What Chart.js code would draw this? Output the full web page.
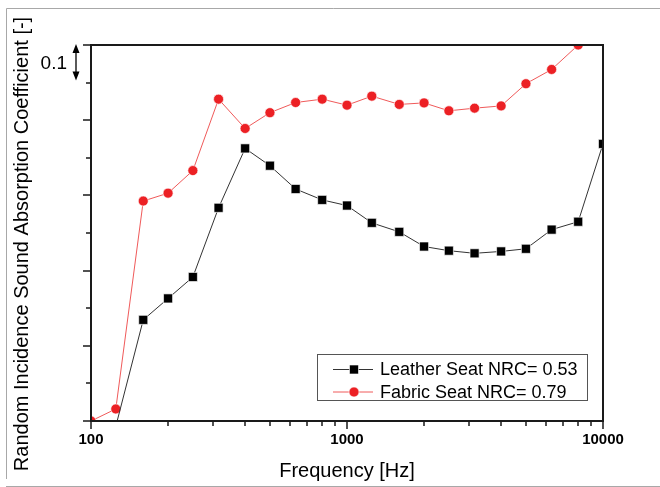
<!DOCTYPE html>
<html>
<head>
<meta charset="utf-8">
<script src="https://cdn.jsdelivr.net/npm/chart.js@4.4.0/dist/chart.umd.min.js"></script>
<style>
  html, body { margin: 0; padding: 0; background: #fff; }
  #wrap { width: 660px; height: 487px; }
</style>
</head>
<body>
<div id="wrap"><canvas id="absorptionChart" width="660" height="487"></canvas></div>
<script>
// one-third octave band centres [Hz]
const frequencies = [100, 125, 160, 200, 250, 315, 400, 500, 630, 800, 1000,
    1250, 1600, 2000, 2500, 3150, 4000, 5000, 6300, 8000, 10000];

// random incidence absorption coefficient
const leatherSeat = [null, -0.014, 0.269, 0.326, 0.383, 0.567, 0.725, 0.679, 0.617, 0.588, 0.573,
    0.527, 0.503, 0.464, 0.453, 0.446, 0.451, 0.458, 0.509, 0.530, 0.737];
const fabricSeat = [0.0, 0.032, 0.585, 0.606, 0.666, 0.856, 0.778, 0.820, 0.847, 0.856, 0.840,
    0.864, 0.842, 0.846, 0.825, 0.832, 0.838, 0.897, 0.935, 1.0, 1.08];

const seriesLabels = ['Leather Seat NRC= 0.53', 'Fabric Seat NRC= 0.79'];

// axis ticks
const freqTickLabels = [100, 1000, 10000];
const freqMinorTicks = [200, 300, 400, 500, 600, 700, 800, 900, 2000, 3000, 4000, 5000, 6000, 7000, 8000, 9000];
const coefTicks = [0, 0.1, 0.2, 0.3, 0.4, 0.5, 0.6, 0.7, 0.8, 0.9, 1.0];

const FONT = "'Liberation Sans', Arial, Helvetica, sans-serif";

const toPoints = values => frequencies.map((f, i) => ({ x: f, y: values[i] }));

// frame, tick marks, scale arrow, y title and the boxed legend
const decorPlugin = {
    id: 'decor',
    beforeDraw(chart) {
        const ctx = chart.ctx;
        ctx.save();
        ctx.fillStyle = '#fff';
        ctx.fillRect(0, 0, chart.width, chart.height);
        ctx.strokeStyle = '#a8a8a8';
        ctx.lineWidth = 1;
        ctx.beginPath();
        ctx.moveTo(6.5, 479);
        ctx.lineTo(6.5, 8.5);
        ctx.lineTo(660, 8.5);
        ctx.moveTo(6, 486.5);
        ctx.lineTo(660, 486.5);
        ctx.stroke();
        ctx.restore();
    },
    afterDraw(chart) {
        const { ctx, chartArea: a, scales } = chart;
        const xs = scales.x, ys = scales.y;
        ctx.save();

        // plot box
        ctx.strokeStyle = '#1a1a1a';
        ctx.lineWidth = 2;
        ctx.strokeRect(a.left, a.top, a.right - a.left, a.bottom - a.top);

        // tick marks (outward)
        ctx.lineWidth = 1.5;
        ctx.beginPath();
        freqTickLabels.forEach(v => {
            const px = Math.round(xs.getPixelForValue(v));
            ctx.moveTo(px, a.bottom); ctx.lineTo(px, a.bottom + 8);
        });
        freqMinorTicks.forEach(v => {
            const px = Math.round(xs.getPixelForValue(v));
            ctx.moveTo(px, a.bottom); ctx.lineTo(px, a.bottom + 5);
        });
        coefTicks.forEach((v, i) => {
            const py = Math.round(ys.getPixelForValue(v));
            ctx.moveTo(a.left, py); ctx.lineTo(a.left - (i % 2 === 0 ? 8 : 5), py);
        });
        ctx.stroke();

        // 0.1 scale arrow
        const ax = 76;
        const y1 = ys.getPixelForValue(1.0) - 1, y2 = ys.getPixelForValue(0.9) - 2;
        ctx.strokeStyle = '#000';
        ctx.fillStyle = '#000';
        ctx.lineWidth = 1.3;
        ctx.beginPath();
        ctx.moveTo(ax, y1 + 6); ctx.lineTo(ax, y2 - 6);
        ctx.stroke();
        ctx.beginPath();
        ctx.moveTo(ax, y1); ctx.lineTo(ax - 3.5, y1 + 9); ctx.lineTo(ax + 3.5, y1 + 9); ctx.closePath();
        ctx.moveTo(ax, y2); ctx.lineTo(ax - 3.5, y2 - 9); ctx.lineTo(ax + 3.5, y2 - 9); ctx.closePath();
        ctx.fill();
        ctx.font = '19px ' + FONT;
        ctx.textAlign = 'right';
        ctx.textBaseline = 'middle';
        ctx.fillText('0.1', 67, (y1 + y2) / 2 + 1);

        // y axis title
        ctx.save();
        ctx.translate(22, 244);
        ctx.rotate(-Math.PI / 2);
        ctx.font = '20px ' + FONT;
        ctx.textAlign = 'center';
        ctx.fillText('Random Incidence Sound Absorption Coefficient [-]', 0, 0);
        ctx.restore();

        // legend box
        ctx.strokeStyle = '#555';
        ctx.lineWidth = 1;
        ctx.strokeRect(317.5, 354.5, 270, 46);
        const rows = [369.5, 392];
        chart.data.datasets.forEach((ds, i) => {
            const y = rows[i];
            ctx.strokeStyle = ds.borderColor;
            ctx.lineWidth = ds.borderWidth;
            ctx.beginPath();
            ctx.moveTo(333, y); ctx.lineTo(373, y);
            ctx.stroke();
            ctx.fillStyle = ds.pointBackgroundColor;
            ctx.strokeStyle = ds.pointBorderColor;
            ctx.lineWidth = ds.pointBorderWidth;
            Chart.helpers.drawPoint(ctx, {
                pointStyle: ds.pointStyle, radius: ds.pointRadius, rotation: 0, borderWidth: ds.pointBorderWidth
            }, 354, y);
            ctx.fillStyle = '#000';
            ctx.font = '18px ' + FONT;
            ctx.textAlign = 'left';
            ctx.textBaseline = 'middle';
            ctx.fillText(ds.label, 380, y + 1);
        });
        ctx.restore();
    }
};

new Chart(document.getElementById('absorptionChart'), {
    type: 'line',
    data: {
        datasets: [
            {
                label: seriesLabels[0],
                data: toPoints(leatherSeat),
                borderColor: '#333333',
                borderWidth: 1,
                pointStyle: 'rect',
                pointRadius: 6.4,
                pointBackgroundColor: '#000000',
                pointBorderColor: 'rgba(255,255,255,0.8)',
                pointBorderWidth: 0.8,
                tension: 0
            },
            {
                label: seriesLabels[1],
                data: toPoints(fabricSeat),
                borderColor: '#f05a5a',
                borderWidth: 1,
                pointStyle: 'circle',
                pointRadius: 5,
                pointBackgroundColor: '#ec2024',
                pointBorderColor: 'rgba(255,255,255,0.8)',
                pointBorderWidth: 0.8,
                tension: 0
            }
        ]
    },
    options: {
        responsive: false,
        animation: false,
        devicePixelRatio: 1,
        layout: { padding: { left: 0, top: 45, right: 57, bottom: 0 } },
        plugins: { legend: { display: false }, tooltip: { enabled: false } },
        scales: {
            x: {
                type: 'logarithmic',
                min: 100,
                max: 10000,
                afterBuildTicks: s => { s.ticks = freqTickLabels.map(v => ({ value: v })); },
                afterFit: s => { s.height = 66; },
                grid: { display: false, drawTicks: false },
                border: { display: false },
                ticks: {
                    callback: v => String(v),
                    color: '#000',
                    font: { family: FONT, size: 15, weight: 'bold' },
                    padding: 10,
                    autoSkip: false,
                    maxRotation: 0
                },
                title: {
                    display: true,
                    text: 'Frequency [Hz]',
                    color: '#000',
                    font: { family: FONT, size: 20 },
                    padding: { top: 0, bottom: 4 }
                }
            },
            y: {
                min: 0,
                max: 1,
                afterFit: s => { s.width = 91; },
                grid: { display: false, drawTicks: false },
                border: { display: false },
                ticks: { display: false }
            }
        }
    },
    plugins: [decorPlugin]
});
</script>
</body>
</html>
